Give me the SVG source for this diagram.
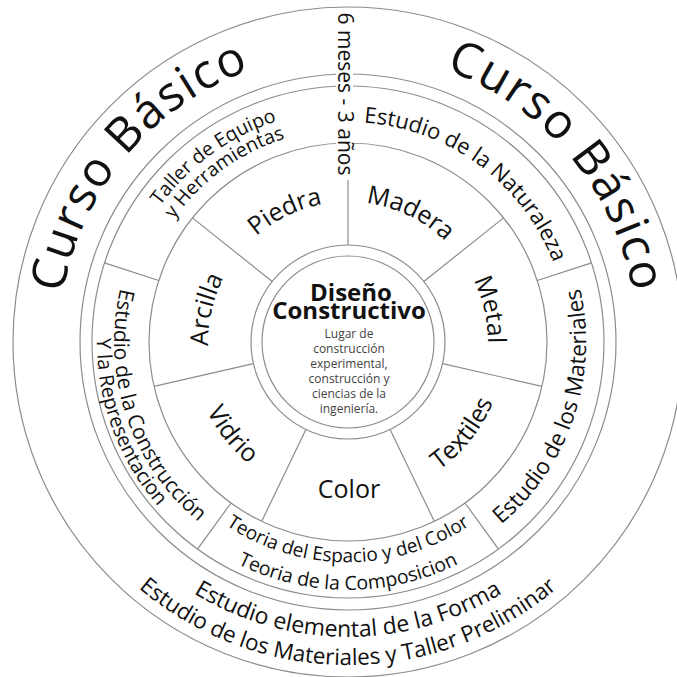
<svg xmlns="http://www.w3.org/2000/svg" width="677" height="677" viewBox="0 0 677 677">
<style>
.ring{fill:none;stroke:#8c8c8c;stroke-width:1.2}
.sep{stroke:#8c8c8c;stroke-width:1.2}
.t{font-family:"Open Sans","Noto Sans","Liberation Sans",sans-serif;fill:#111}
.big{font-size:48px;letter-spacing:1.5px}
.mat{font-size:25px}
.small{font-size:12px;fill:#444}
.title{font-size:24px;font-weight:bold}
</style>
<defs>
<path id="pCB1" d="M126.6,527.8 A289,289 0 0 1 492.5,91.7"/>
<path id="pCB2" d="M203.5,91.7 A289,289 0 0 1 569.4,527.8"/>
<path id="pNat" d="M196.6,182.4 A220,220 0 0 1 544.9,440.2"/>
<path id="pTalA" d="M139.5,443.7 A232,232 0 0 1 509.2,175.1"/>
<path id="pTalB" d="M156.6,435.4 A213,213 0 0 1 496.0,188.8"/>
<path id="pCon1" d="M236.3,136.4 A234,234 0 0 0 382.6,573.4"/>
<path id="pCon2" d="M222.5,124.6 A251,251 0 0 0 391.6,589.2"/>
<path id="pMatB" d="M312.8,577.4 A238,238 0 0 0 461.6,132.8"/>
<path id="pTeo1" d="M131.3,380.2 A220,220 0 0 0 564.7,380.2"/>
<path id="pTeo2" d="M103.8,385.1 A248,248 0 0 0 592.2,385.1"/>
<path id="pEst1" d="M57.5,393.2 A295,295 0 0 0 638.5,393.2"/>
<path id="pEst2" d="M29.9,398.1 A323,323 0 0 0 666.1,398.1"/>
<path id="pPie" d="M213.2,379.9 A140,140 0 0 1 461.7,260.3"/>
<path id="pMad" d="M234.3,260.3 A140,140 0 0 1 482.8,379.9"/>
<path id="pMet" d="M341.0,202.2 A140,140 0 0 1 402.4,471.0"/>
<path id="pTex" d="M272.9,479.9 A157,157 0 0 0 465.7,238.1"/>
<path id="pVid" d="M230.3,238.1 A157,157 0 0 0 423.1,479.9"/>
<path id="pArc" d="M293.6,471.0 A140,140 0 0 1 355.0,202.2"/>
</defs>
<rect width="677" height="677" fill="#fff"/>
<g id="connectors">
<circle class="ring" cx="348" cy="342" r="335"/>
<circle class="ring" cx="348" cy="342" r="268"/>
<circle class="ring" cx="348" cy="342" r="256"/>
<circle class="ring" cx="348" cy="342" r="199"/>
<circle class="ring" cx="348" cy="342" r="97"/>
<circle class="ring" cx="348" cy="342" r="86"/>
<line class="sep" x1="348" y1="245" x2="348" y2="143"/>
<line class="sep" x1="423.8" y1="281.5" x2="503.5" y2="217.9"/>
<line class="sep" x1="442.6" y1="363.6" x2="542.0" y2="386.3"/>
<line class="sep" x1="390.1" y1="429.4" x2="434.3" y2="521.3"/>
<line class="sep" x1="305.9" y1="429.4" x2="261.7" y2="521.3"/>
<line class="sep" x1="253.4" y1="363.6" x2="154.0" y2="386.3"/>
<line class="sep" x1="272.2" y1="281.5" x2="192.5" y2="217.9"/>
<line class="sep" x1="537.3" y1="280.5" x2="591.5" y2="262.9"/>
<line class="sep" x1="465.0" y1="503.0" x2="498.5" y2="549.1"/>
<line class="sep" x1="231.0" y1="503.0" x2="197.5" y2="549.1"/>
<line class="sep" x1="158.7" y1="280.5" x2="104.5" y2="262.9"/>
</g>
<g id="curso-basico">
<text class="t big"><textPath href="#pCB1" startOffset="50%" text-anchor="middle">Curso Básico</textPath></text>
<text class="t big"><textPath href="#pCB2" startOffset="50%" text-anchor="middle">Curso Básico</textPath></text>
</g>
<g id="duracion">
<rect x="336" y="10" width="17" height="170" fill="#fff"/>
<text class="t" font-size="21" text-anchor="middle" transform="translate(338,94) rotate(90)">6 meses - 3 años</text>
</g>
<g id="estudio-naturaleza">
<text class="t" font-size="22"><textPath href="#pNat" startOffset="50%" text-anchor="middle">Estudio de la Naturaleza</textPath></text>
</g>
<g id="taller-equipo">
<text class="t" font-size="19.5"><textPath href="#pTalA" startOffset="50%" text-anchor="middle">Taller de Equipo</textPath></text>
<text class="t" font-size="19.5"><textPath href="#pTalB" startOffset="50%" text-anchor="middle">y Herramientas</textPath></text>
</g>
<g id="estudio-construccion">
<text class="t" font-size="21"><textPath href="#pCon1" startOffset="50%" text-anchor="middle">Estudio de la Construcción</textPath></text>
<text class="t" font-size="20"><textPath href="#pCon2" startOffset="50%" text-anchor="middle">Y la Representacion</textPath></text>
</g>
<g id="estudio-materiales">
<text class="t" font-size="22.5"><textPath href="#pMatB" startOffset="50%" text-anchor="middle">Estudio de los Materiales</textPath></text>
</g>
<g id="teoria">
<text class="t" font-size="19"><textPath href="#pTeo1" startOffset="50%" text-anchor="middle">Teoria del Espacio y del Color</textPath></text>
<text class="t" font-size="19.5"><textPath href="#pTeo2" startOffset="50%" text-anchor="middle">Teoria de la Composicion</textPath></text>
</g>
<g id="estudio-elemental">
<text class="t" font-size="23"><textPath href="#pEst1" startOffset="50%" text-anchor="middle">Estudio elemental de la Forma</textPath></text>
<text class="t" font-size="22.4"><textPath href="#pEst2" startOffset="50%" text-anchor="middle">Estudio de los Materiales y Taller Preliminar</textPath></text>
</g>
<g id="piedra"><text class="t mat"><textPath href="#pPie" startOffset="50%" text-anchor="middle">Piedra</textPath></text></g>
<g id="madera"><text class="t mat"><textPath href="#pMad" startOffset="50%" text-anchor="middle">Madera</textPath></text></g>
<g id="metal"><text class="t mat"><textPath href="#pMet" startOffset="50%" text-anchor="middle">Metal</textPath></text></g>
<g id="textiles"><text class="t mat"><textPath href="#pTex" startOffset="50%" text-anchor="middle">Textiles</textPath></text></g>
<g id="color"><text class="t mat" x="349" y="498" text-anchor="middle">Color</text></g>
<g id="vidrio"><text class="t mat"><textPath href="#pVid" startOffset="50%" text-anchor="middle">Vidrio</textPath></text></g>
<g id="arcilla"><text class="t mat"><textPath href="#pArc" startOffset="50%" text-anchor="middle">Arcilla</textPath></text></g>
<g id="diseno-constructivo">
<text class="t title" x="351" y="301" text-anchor="middle">Diseño</text>
<text class="t title" x="349" y="319" text-anchor="middle">Constructivo</text>
<text class="t small" text-anchor="middle"><tspan x="349" y="338">Lugar de</tspan><tspan x="349" y="353">construcción</tspan><tspan x="349" y="368">experimental,</tspan><tspan x="349" y="383">construcción y</tspan><tspan x="349" y="398">ciencias de la</tspan><tspan x="349" y="413">ingeniería.</tspan></text>
</g>
</svg>
